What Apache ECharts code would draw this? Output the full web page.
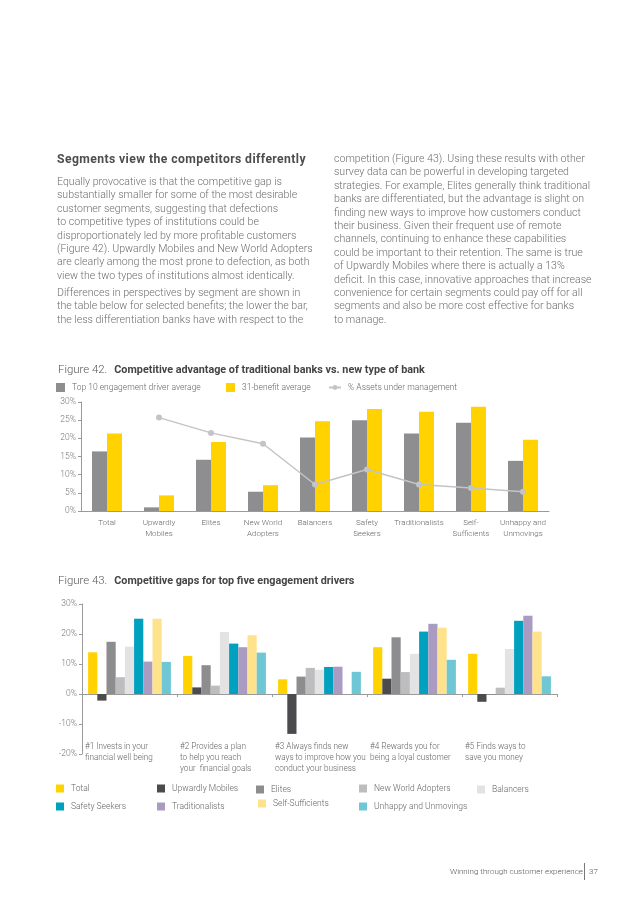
<!DOCTYPE html>
<html>
<head>
<meta charset="utf-8">
<script src="https://cdn.jsdelivr.net/npm/echarts@6/dist/echarts.min.js"></script>
<style>
  html,body{margin:0;padding:0;background:#fff;}
  #page{position:relative;width:638px;height:903px;overflow:hidden;background:#fff;}
  #chart{position:absolute;left:0;top:0;width:638px;height:903px;}
  .txt{position:absolute;font-family:Roboto,"Open Sans",sans-serif;font-weight:300;color:#6d6e71;font-size:10.6px;line-height:13.4px;white-space:nowrap;}
  .hd{position:absolute;font-family:Roboto,sans-serif;font-weight:700;color:#4d4d4f;font-size:12.2px;letter-spacing:0.4px;white-space:nowrap;}
  .foot{position:absolute;font-family:Roboto,sans-serif;font-weight:300;color:#555;font-size:8px;white-space:nowrap;}
</style>
</head>
<body>
<div id="page">
  <div id="chart"></div>
  <div class="hd" style="left:57px;top:152px;">Segments view the competitors differently</div>
  <div class="txt" style="left:57px;top:175px;">
    Equally provocative is that the competitive gap is<br>
    substantially smaller for some of the most desirable<br>
    customer segments, suggesting that defections<br>
    to competitive types of institutions could be<br>
    disproportionately led by more profitable customers<br>
    (Figure 42). Upwardly Mobiles and New World Adopters<br>
    are clearly among the most prone to defection, as both<br>
    view the two types of institutions almost identically.
  </div>
  <div class="txt" style="left:57px;top:286px;">
    Differences in perspectives by segment are shown in<br>
    the table below for selected benefits; the lower the bar,<br>
    the less differentiation banks have with respect to the
  </div>
  <div class="txt" style="left:334px;top:152px;">
    competition (Figure 43). Using these results with other<br>
    survey data can be powerful in developing targeted<br>
    strategies. For example, Elites generally think traditional<br>
    banks are differentiated, but the advantage is slight on<br>
    finding new ways to improve how customers conduct<br>
    their business. Given their frequent use of remote<br>
    channels, continuing to enhance these capabilities<br>
    could be important to their retention. The same is true<br>
    of Upwardly Mobiles where there is actually a 13%<br>
    deficit. In this case, innovative approaches that increase<br>
    convenience for certain segments could pay off for all<br>
    segments and also be more cost effective for banks<br>
    to manage.
  </div>
  <div class="foot" style="left:450px;top:867px;width:129px;text-align:right;">Winning through customer experience</div>
  <div style="position:absolute;left:584px;top:863px;width:1px;height:17px;background:#777;"></div>
  <div class="foot" style="left:589px;top:867px;">37</div>
</div>
<script>
// ---------- Figure 42 data ----------
const segments = ['Total','Upwardly\nMobiles','Elites','New World\nAdopters','Balancers','Safety\nSeekers','Traditionalists','Self-\nSufficients','Unhappy and\nUnmovings'];
const top10Avg   = [16.4, 1.0, 14.1, 5.3, 20.2, 25.0, 21.3, 24.3, 13.8];
const benefitAvg = [21.3, 4.3, 19.0, 7.1, 24.7, 28.1, 27.3, 28.7, 19.6];
const assetsPct  = ['-', 25.7, 21.5, 18.5, 7.3, 11.4, 7.3, 6.3, 5.3];
const fig42Ticks = {min: 0, max: 30, interval: 5};

// ---------- Figure 43 data ----------
const drivers = ['#1','#2','#3','#4','#5'];
const driverLabels = [
  '#1 Invests in your\nfinancial well being',
  '#2 Provides a plan\nto help you reach\nyour  financial goals',
  '#3 Always finds new\nways to improve how you\nconduct your business',
  '#4 Rewards you for\nbeing a loyal customer',
  '#5 Finds ways to\nsave you money'
];
const gapTotal        = [13.9, 12.7, 4.9, 15.6, 13.4];
const gapUpwardly     = [-2.2, 2.2, -13.3, 5.1, -2.6];
const gapElites       = [17.4, 9.6, 5.8, 18.9, -0.3];
const gapNewWorld     = [5.6, 2.8, 8.7, 7.3, 2.1];
const gapBalancers    = [15.8, 20.7, 8.1, 13.4, 15.0];
const gapSafety       = [25.1, 16.8, 9.0, 20.8, 24.4];
const gapTraditional  = [10.8, 15.6, 9.1, 23.4, 26.1];
const gapSelfSuff     = [25.1, 19.6, 0, 22.1, 20.8];
const gapUnhappy      = [10.7, 13.8, 7.4, 11.4, 5.9];
const fig43Ticks = {min: -20, max: 30, interval: 10};

const FONT = 'Roboto';
const AX = '#9a9a9a';
const LBL = '#777';

const fig43Series = [
  {name:'Total', data:gapTotal, color:'#ffd200'},
  {name:'Upwardly Mobiles', data:gapUpwardly, color:'#4b4b4d'},
  {name:'Elites', data:gapElites, color:'#8d8d8f'},
  {name:'New World Adopters', data:gapNewWorld, color:'#bdbdbf'},
  {name:'Balancers', data:gapBalancers, color:'#e3e3e4'},
  {name:'Safety Seekers', data:gapSafety, color:'#00a0bf'},
  {name:'Traditionalists', data:gapTraditional, color:'#a99bc2'},
  {name:'Self-Sufficients', data:gapSelfSuff, color:'#ffe28c'},
  {name:'Unhappy and Unmovings', data:gapUnhappy, color:'#6fc7d6'}
];
// legend placement for figure 43 (left, top)
const fig43LegendPos = [
  [56,784],[157,784],[256,785],[359,784],[477,785],
  [56,802],[157,802],[258,799],[359,802]
];

const chart = echarts.init(document.getElementById('chart'), null, {renderer:'canvas'});

function legendItem(name, left, top, extra) {
  return Object.assign({
    data:[name], left:left, top:top, orient:'horizontal',
    itemWidth:8, itemHeight:8, icon:'rect', itemGap:0, padding:0, selectedMode:false,
    textStyle:{fontFamily:FONT, fontWeight:300, fontSize:8.5, color:'#666', padding:[0,0,0,2]}
  }, extra || {});
}

const legends = [
  legendItem('Top 10 engagement driver average', 56, 383, {itemWidth:9, itemHeight:9}),
  legendItem('31-benefit average', 226, 383, {itemWidth:9, itemHeight:9}),
  legendItem('% Assets under management', 328, 383, {itemWidth:12, itemHeight:6})
];
fig43Series.forEach((s, i) => legends.push(legendItem(s.name, fig43LegendPos[i][0], fig43LegendPos[i][1])));
delete legends[2].icon;

const yAxisCommon = {
  axisLine:{show:true, lineStyle:{color:AX, width:1}},
  axisTick:{show:true, length:3, lineStyle:{color:AX}},
  splitLine:{show:false},
  axisLabel:{formatter:'{value}%', fontFamily:FONT, fontWeight:300, fontSize:8.5, color:LBL, margin:5}
};

const titleRich = {
  a:{fontFamily:FONT, fontWeight:300, fontSize:11.4, color:'#555'},
  b:{fontFamily:FONT, fontWeight:'bold', fontSize:10.8, color:'#444', padding:[0,0,0,2]}
};

const option = {
  animation:false,
  title:[
    {left:58, top:361, padding:0,
     text:'{a|Figure 42.} {b|Competitive advantage of traditional banks vs. new type of bank}',
     textStyle:{rich:titleRich}},
    {left:58, top:572, padding:0,
     text:'{a|Figure 43.} {b|Competitive gaps for top five engagement drivers}',
     textStyle:{rich:titleRich}}
  ],
  legend: legends,
  grid:[
    {left:81, top:402, width:468, height:109},
    {left:82, top:604, width:475, height:150}
  ],
  xAxis:[
    {gridIndex:0, type:'category', data:segments,
     axisLine:{lineStyle:{color:AX}}, axisTick:{show:false},
     axisLabel:{interval:0, fontFamily:FONT, fontWeight:300, fontSize:8, color:'#666', lineHeight:11, margin:6}},
    {gridIndex:1, type:'category', data:drivers, position:'bottom',
     axisLine:{onZero:true, lineStyle:{color:AX}}, axisTick:{show:true, length:3, lineStyle:{color:AX}},
     axisLabel:{show:false}},
    {gridIndex:1, type:'category', data:driverLabels.concat(['']), boundaryGap:false, position:'bottom', offset:-13,
     axisLine:{show:false, onZero:false}, axisTick:{show:false},
     axisLabel:{interval:0, align:'left', verticalAlign:'top', margin:0, padding:[0,0,0,3],
       fontFamily:FONT, fontWeight:300, fontSize:8.2, color:'#666', lineHeight:11}}
  ],
  yAxis:[
    Object.assign({gridIndex:0, type:'value'}, fig42Ticks, yAxisCommon),
    Object.assign({gridIndex:1, type:'value'}, fig43Ticks, yAxisCommon)
  ],
  series:[
    {name:'Top 10 engagement driver average', type:'bar', xAxisIndex:0, yAxisIndex:0,
     data:top10Avg, barWidth:15, barGap:'0%', itemStyle:{color:'#8e8e90'}},
    {name:'31-benefit average', type:'bar', xAxisIndex:0, yAxisIndex:0,
     data:benefitAvg, barWidth:15, barGap:'0%', itemStyle:{color:'#ffd200'}},
    {name:'% Assets under management', type:'line', xAxisIndex:0, yAxisIndex:0,
     data:assetsPct, symbol:'circle', symbolSize:6, showSymbol:true,
     lineStyle:{color:'#c4c4c4', width:1.5}, itemStyle:{color:'#c4c4c4'}, z:5}
  ].concat(fig43Series.map(s => ({
     name:s.name, type:'bar', xAxisIndex:1, yAxisIndex:1, data:s.data,
     barWidth:9.2, barGap:'0%', itemStyle:{color:s.color}
  })))
};
chart.setOption(option);
</script>
</body>
</html>
